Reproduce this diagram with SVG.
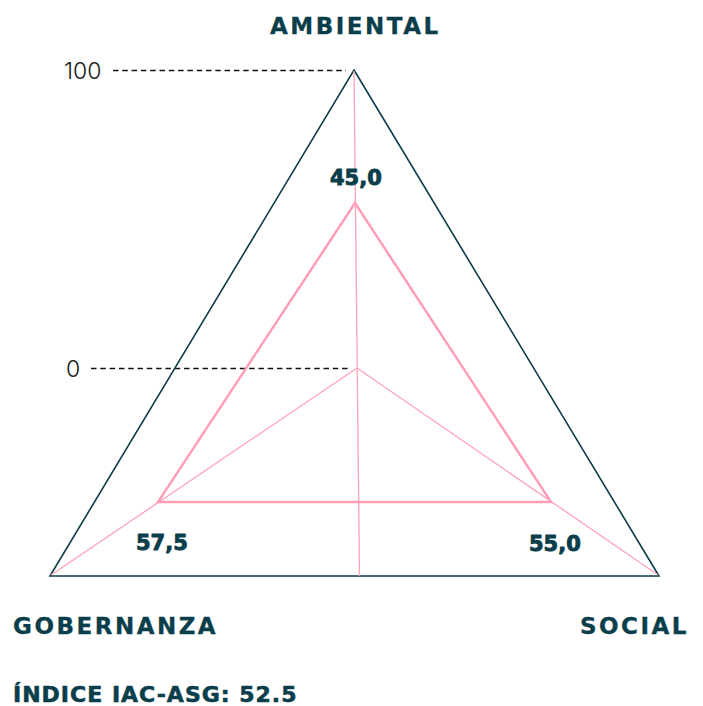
<svg xmlns="http://www.w3.org/2000/svg" width="703" height="706" viewBox="0 0 703 706">
<style>
.lbl{font-family:"DejaVu Sans",sans-serif;font-weight:bold;font-size:23px;fill:#0b3e4b;letter-spacing:2.5px;stroke:#0b3e4b;stroke-width:0.3}
.val{font-family:"DejaVu Sans",sans-serif;font-weight:bold;font-size:21px;fill:#0b3e4b;stroke:#0b3e4b;stroke-width:0.9;stroke-linejoin:round}
.axis{font-family:Inter,"DejaVu Sans",sans-serif;font-weight:300;font-size:23px;fill:#1a1a1a}
.dash{stroke:#111;stroke-width:1.3;stroke-dasharray:5.5 3.8;fill:none}
.thin{stroke:#ffa3b8;stroke-width:1.3;fill:none}
</style>
<rect width="703" height="706" fill="#fff"/>
<g id="connectors">
<line class="dash" x1="113" y1="70.5" x2="346" y2="70.5"/>
<line class="dash" x1="91" y1="368.5" x2="348" y2="368.5"/>
<polygon points="354,70 659,576 50,576" fill="none" stroke="#0d3d4a" stroke-width="1.6"/>
<line class="thin" x1="354" y1="71" x2="359.5" y2="576"/>
<line class="thin" x1="357" y1="368" x2="51" y2="575"/>
<line class="thin" x1="357" y1="368" x2="658" y2="575"/>
<polygon points="355,203 551,502 158,502" fill="none" stroke="#ff9fb6" stroke-width="2.5" stroke-linejoin="miter"/>
</g>
<g id="axis-labels">
<text class="axis" x="64" y="79">100</text>
<text class="axis" x="66" y="377">0</text>
</g>
<g id="node-ambiental"><text class="lbl" x="270" y="34">AMBIENTAL</text></g>
<g id="node-social"><text class="lbl" x="580" y="634">SOCIAL</text></g>
<g id="node-gobernanza"><text class="lbl" x="13" y="634">GOBERNANZA</text></g>
<g id="values">
<text class="val" x="330" y="185">45,0</text>
<text class="val" x="136" y="550">57,5</text>
<text class="val" x="529" y="551">55,0</text>
</g>
<g id="index"><text class="val" x="13" y="702" style="font-size:22px;letter-spacing:1px;stroke-width:0.6">ÍNDICE IAC-ASG: 52.5</text></g>
</svg>
